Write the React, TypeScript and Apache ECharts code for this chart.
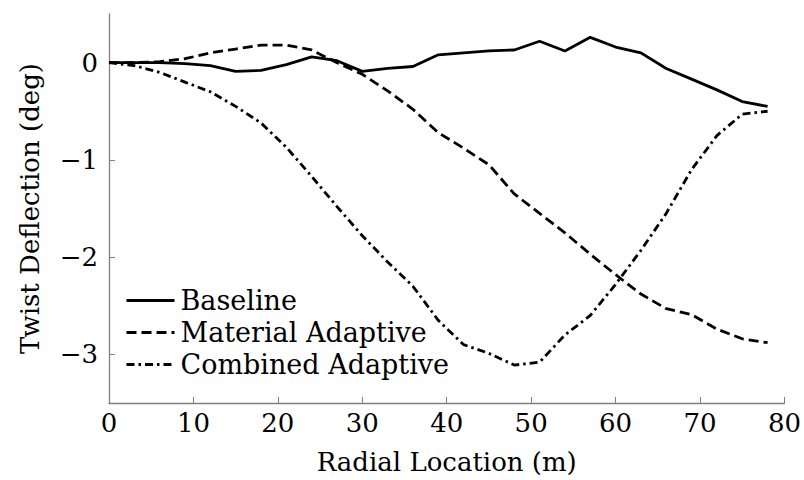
import React, { useEffect, useRef } from "react";
import * as echarts from "echarts";

const xValues = [0, 3, 6, 9, 12, 15, 18, 21, 24, 27, 30, 33, 36, 39, 42, 45, 48, 51, 54, 57, 60, 63, 66, 69, 72, 75, 78];
const baseline = [0, 0, 0, -0.01, -0.03, -0.09, -0.08, -0.02, 0.06, 0.02, -0.09, -0.06, -0.04, 0.08, 0.1, 0.12, 0.13, 0.22, 0.12, 0.26, 0.16, 0.1, -0.06, -0.17, -0.28, -0.4, -0.45];
const material = [0, 0, 0.01, 0.04, 0.1, 0.14, 0.18, 0.18, 0.13, 0.0, -0.12, -0.29, -0.48, -0.72, -0.88, -1.05, -1.35, -1.55, -1.75, -1.97, -2.18, -2.38, -2.53, -2.59, -2.74, -2.84, -2.88];
const combined = [0, -0.03, -0.1, -0.2, -0.3, -0.45, -0.62, -0.87, -1.17, -1.48, -1.78, -2.05, -2.3, -2.65, -2.9, -2.99, -3.11, -3.08, -2.8, -2.6, -2.28, -1.93, -1.55, -1.1, -0.75, -0.53, -0.5];
const seriesNames = ["Baseline", "Material Adaptive", "Combined Adaptive"];
const yTicks = [-3, -2, -1, 0];
const xTicks = [0, 10, 20, 30, 40, 50, 60, 70, 80];

const FONT = "'DejaVu Serif', 'Liberation Serif', serif";
const FS = 26;

export default function App() {
  const ref = useRef<HTMLDivElement>(null);
  useEffect(() => {
    if (!ref.current) return;
    const chart = echarts.init(ref.current, undefined, { renderer: "svg" });
    const pair = (ys: number[]) => xValues.map((x, i) => [x, ys[i]]);
    const mk = (name: string, ys: number[], type: any) => ({
      name,
      type: "line",
      data: pair(ys),
      showSymbol: false,
      symbol: "none",
      lineStyle: { color: "#000", width: 2.8, type },
      itemStyle: { color: "#000" },
    });
    chart.setOption({
      animation: false,
      grid: { left: 109, right: 15, top: 14, bottom: 77 },
      legend: {
        left: 120,
        top: 282,
        padding: 5,
        orient: "vertical",
        itemWidth: 48,
        itemHeight: 14,
        itemGap: 5,
        itemStyle: { opacity: 0 },
        lineStyle: { width: 3 },
        textStyle: { fontFamily: FONT, fontSize: 27, lineHeight: 27, color: "#000", padding: [0, 0, 0, 1] },
        data: seriesNames,
      },
      xAxis: {
        type: "value",
        min: 0,
        max: 80,
        interval: 10,
        name: "Radial Location (m)",
        nameLocation: "middle",
        nameGap: 46,
        nameTextStyle: { fontFamily: FONT, fontSize: FS, color: "#000" },
        axisLine: { onZero: false, lineStyle: { color: "#808080", width: 1.3 } },
        axisTick: { inside: true, length: 6, lineStyle: { color: "#808080" }, customValues: xTicks },
        axisLabel: { fontFamily: FONT, fontSize: FS, color: "#000", margin: 7, customValues: xTicks },
        splitLine: { show: false },
      },
      yAxis: {
        type: "value",
        min: -3.5,
        max: 0.5,
        name: "Twist Deflection (deg)",
        nameLocation: "middle",
        nameGap: 66,
        nameTextStyle: { fontFamily: FONT, fontSize: FS, color: "#000" },
        axisLine: { onZero: false, lineStyle: { color: "#808080", width: 1.3 } },
        axisTick: { inside: true, length: 6, lineStyle: { color: "#808080" }, customValues: yTicks },
        axisLabel: {
          fontFamily: FONT,
          fontSize: FS,
          color: "#000",
          margin: 11,
          customValues: yTicks,
          formatter: (v: number) => (v < 0 ? "\u2212" + Math.abs(v) : String(v)),
        },
        splitLine: { show: false },
      },
      series: [
        mk(seriesNames[0], baseline, "solid"),
        mk(seriesNames[1], material, [10, 5]),
        mk(seriesNames[2], combined, [8, 4, 2.5, 4]),
      ],
    });
    return () => chart.dispose();
  }, []);
  return <div ref={ref} style={{ width: 804, height: 480, position: "absolute", left: 0, top: 0 }} />;
}
